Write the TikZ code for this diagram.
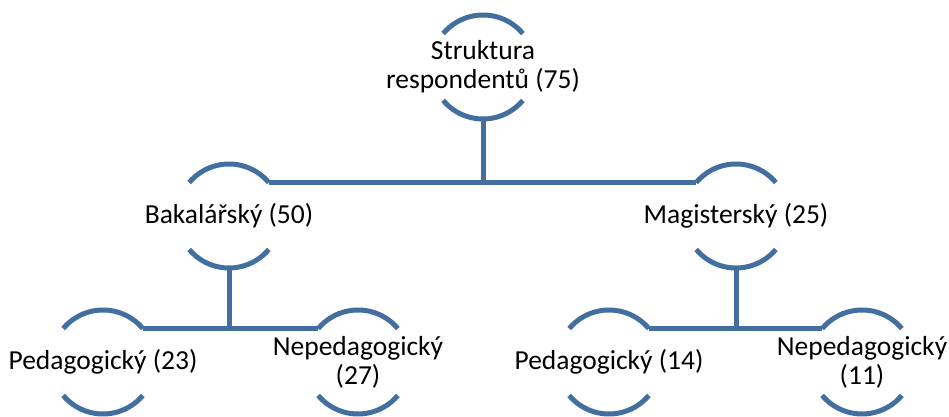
\documentclass[tikz,border=0pt]{standalone}
\usepackage{fontspec}
\setmainfont{Carlito}
\usepackage{tikz}
\definecolor{treeblue}{RGB}{66,111,160}

\begin{document}
\begin{tikzpicture}[x=1pt,y=1pt]
				\useasboundingbox (0,0) rectangle (949,417);
				\tikzset{lbl/.style={align=center, inner sep=0pt, font=\fontsize{27.5}{29}\selectfont},
					link/.style={treeblue, line width=5pt}}
				\def\r{52}
				\node[lbl] (s) at (483,350) {Struktura\\respondentů (75)};
				\node[lbl] (b) at (229,201) {Bakalářský (50)};
				\node[lbl] (m) at (736,201) {Magisterský (25)};
				\node[lbl] (p1) at (103,55) {Pedagogický (23)};
				\node[lbl] (n1) at (358,55) {Nepedagogický\\(27)};
				\node[lbl] (p2) at (609,55) {Pedagogický (14)};
				\node[lbl] (n2) at (862,55) {Nepedagogický\\(11)};
				
				% arcs above and below each label
				\foreach \n in {s,b,m,p1,n1,p2,n2} {
					\coordinate (\n-tr) at ([shift={(40:\r)}]\n.center);
					\coordinate (\n-tl) at ([shift={(140:\r)}]\n.center);
					\coordinate (\n-bl) at ([shift={(220:\r)}]\n.center);
					\coordinate (\n-bot) at ([yshift=-\r]\n.center);
					\draw[link] (\n-tr) arc[start angle=40, end angle=140, radius=\r];
					\draw[link] (\n-bl) arc[start angle=220, end angle=320, radius=\r];
				}
				
				\draw[link] (b-tr) -- (m-tl);
				\draw[link] (s-bot) -- (s-bot |- b-tr);
				\draw[link] (p1-tr) -- (n1-tl);
				\draw[link] (b-bot) -- (b-bot |- p1-tr);
				\draw[link] (p2-tr) -- (n2-tl);
				\draw[link] (m-bot) -- (m-bot |- p2-tr);
			\end{tikzpicture}
\end{document}
